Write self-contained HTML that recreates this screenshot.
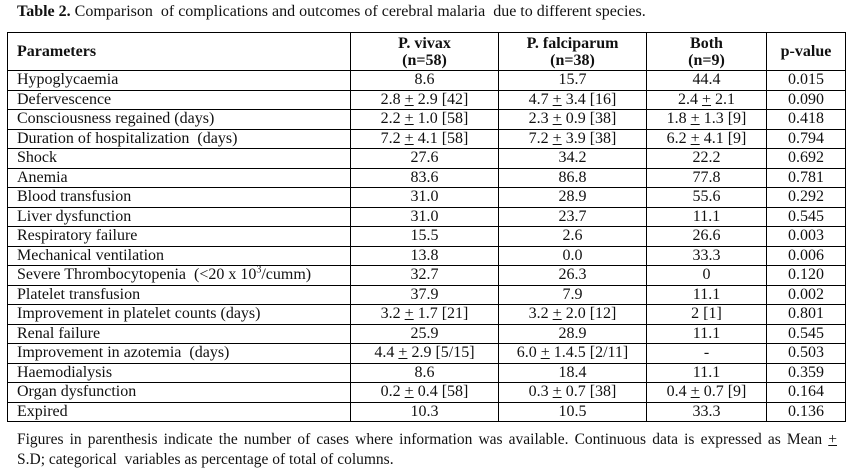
<!DOCTYPE html>
<html><head><meta charset="utf-8"><style>
body{margin:0;width:852px;height:474px;background:#fff;font-family:"Liberation Serif",serif;color:#111;position:relative;overflow:hidden}
#title{position:absolute;left:17px;top:3px;font-size:16px;white-space:nowrap}
table{position:absolute;left:7px;top:32px;width:838px;border-collapse:collapse;table-layout:fixed;font-size:16px}
td,th{border:1px solid #000;padding:0 0 0 9px;height:18.5px;line-height:16px;white-space:nowrap;overflow:visible}
th{height:37px;font-weight:bold;font-size:16px;line-height:17px}
th.p{text-align:left;padding-left:9px}
td:not(:first-child),th:not(:first-child){text-align:center;padding:0}
u{text-decoration:underline}
#foot{position:absolute;left:17px;top:430px;font-size:15.5px;line-height:20px;width:820px}
#foot div{white-space:nowrap}
#foot .l1{text-align:justify;text-align-last:justify;white-space:normal}
</style></head><body>
<div id="title"><b>Table 2.</b> Comparison &nbsp;of complications and outcomes of cerebral malaria &nbsp;due to different species.</div>
<table>
<colgroup><col style="width:343px"><col style="width:148px"><col style="width:148px"><col style="width:120px"><col style="width:79px"></colgroup>
<tr><th class="p">Parameters</th><th>P. vivax<br>(n=58)</th><th>P. falciparum<br>(n=38)</th><th>Both<br>(n=9)</th><th>p-value</th></tr>
<tr><td>Hypoglycaemia</td><td>8.6</td><td>15.7</td><td>44.4</td><td>0.015</td></tr>
<tr><td>Defervescence</td><td>2.8 <u>+</u> 2.9 [42]</td><td>4.7 <u>+</u> 3.4 [16]</td><td>2.4 <u>+</u> 2.1</td><td>0.090</td></tr>
<tr><td>Consciousness regained (days)</td><td>2.2 <u>+</u> 1.0 [58]</td><td>2.3 <u>+</u> 0.9 [38]</td><td>1.8 <u>+</u> 1.3 [9]</td><td>0.418</td></tr>
<tr><td>Duration of hospitalization &nbsp;(days)</td><td>7.2 <u>+</u> 4.1 [58]</td><td>7.2 <u>+</u> 3.9 [38]</td><td>6.2 <u>+</u> 4.1 [9]</td><td>0.794</td></tr>
<tr><td>Shock</td><td>27.6</td><td>34.2</td><td>22.2</td><td>0.692</td></tr>
<tr><td>Anemia</td><td>83.6</td><td>86.8</td><td>77.8</td><td>0.781</td></tr>
<tr><td>Blood transfusion</td><td>31.0</td><td>28.9</td><td>55.6</td><td>0.292</td></tr>
<tr><td>Liver dysfunction</td><td>31.0</td><td>23.7</td><td>11.1</td><td>0.545</td></tr>
<tr><td>Respiratory failure</td><td>15.5</td><td>2.6</td><td>26.6</td><td>0.003</td></tr>
<tr><td>Mechanical ventilation</td><td>13.8</td><td>0.0</td><td>33.3</td><td>0.006</td></tr>
<tr><td>Severe Thrombocytopenia &nbsp;(&lt;20 x 10<sup style="font-size:10px;line-height:0">3</sup>/cumm)</td><td>32.7</td><td>26.3</td><td>0</td><td>0.120</td></tr>
<tr><td>Platelet transfusion</td><td>37.9</td><td>7.9</td><td>11.1</td><td>0.002</td></tr>
<tr><td>Improvement in platelet counts (days)</td><td>3.2 <u>+</u> 1.7 [21]</td><td>3.2 <u>+</u> 2.0 [12]</td><td>2 [1]</td><td>0.801</td></tr>
<tr><td>Renal failure</td><td>25.9</td><td>28.9</td><td>11.1</td><td>0.545</td></tr>
<tr><td>Improvement in azotemia &nbsp;(days)</td><td>4.4 <u>+</u> 2.9 [5/15]</td><td>6.0 <u>+</u> 1.4.5 [2/11]</td><td>-</td><td>0.503</td></tr>
<tr><td>Haemodialysis</td><td>8.6</td><td>18.4</td><td>11.1</td><td>0.359</td></tr>
<tr><td>Organ dysfunction</td><td>0.2 <u>+</u> 0.4 [58]</td><td>0.3 <u>+</u> 0.7 [38]</td><td>0.4 <u>+</u> 0.7 [9]</td><td>0.164</td></tr>
<tr><td>Expired</td><td>10.3</td><td>10.5</td><td>33.3</td><td>0.136</td></tr>
</table>
<div id="foot"><div class="l1">Figures in parenthesis indicate the number of cases where information was available. Continuous data is expressed as Mean <u>+</u></div><div>S.D; categorical &nbsp;variables as percentage of total of columns.</div></div>
</body></html>
